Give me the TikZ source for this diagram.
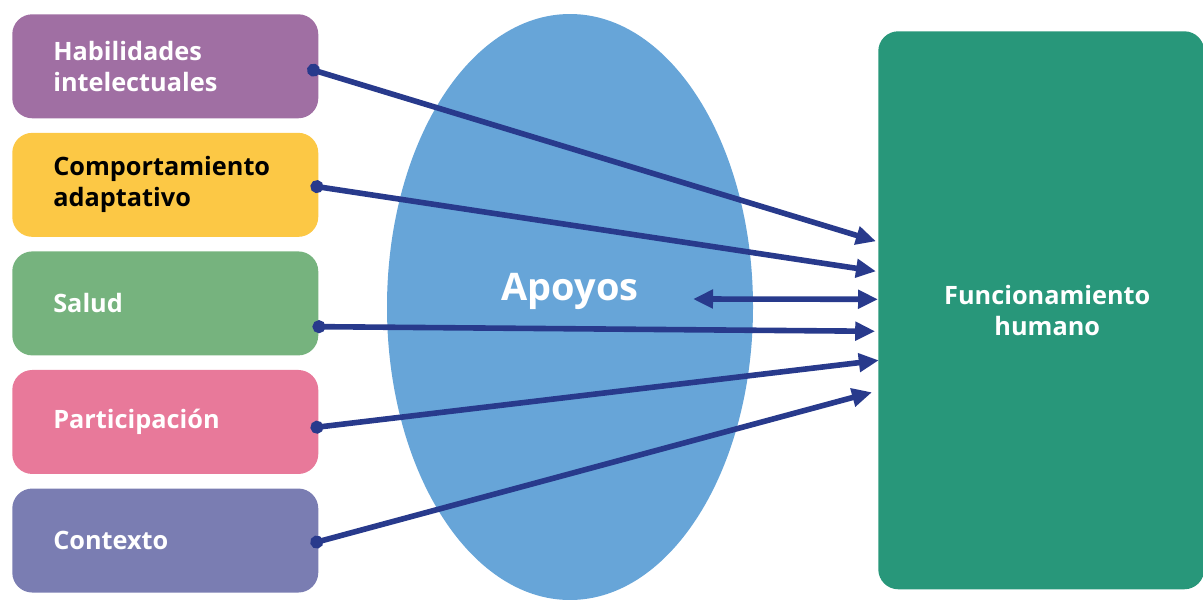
\documentclass[tikz,border=0pt]{standalone}
\usepackage{fontspec}
\setmainfont{Open Sans}
\usetikzlibrary{positioning}
\usetikzlibrary{arrows.meta}
\usetikzlibrary{shapes.geometric}
\definecolor{habcol}{HTML}{A06FA3}
\definecolor{compcol}{HTML}{FCC845}
\definecolor{saludcol}{HTML}{76B37E}
\definecolor{partcol}{HTML}{E8799A}
\definecolor{contcol}{HTML}{7A7DB2}
\definecolor{apocol}{HTML}{67A5D8}
\definecolor{funccol}{HTML}{28977A}
\definecolor{linkcol}{HTML}{283A8C}
\newcommand{\boxfont}{\fontsize{18}{22}\selectfont\bfseries}
\tikzstyle{area} = [rectangle, rounded corners=0.5cm, minimum width=7.65cm, minimum height=2.6cm, text width=5.6cm, inner xsep=1.025cm, align=left, text=white, font=\boxfont]
\tikzstyle{link} = [draw=linkcol, line width=0.14cm, {Circle[length=0.32cm]}-{Triangle[length=0.5cm,width=0.45cm]}]
\tikzstyle{twoway} = [draw=linkcol, line width=0.14cm, {Triangle[length=0.5cm,width=0.45cm]}-{Triangle[length=0.5cm,width=0.45cm]}]

\begin{document}
\begin{tikzpicture}[node distance=0.35cm]

		\useasboundingbox (0,0) rectangle (30.075,-14.975);

		\node (apoyos) [ellipse, fill=apocol, minimum width=9.15cm, minimum height=14.65cm] at (14.25,-7.675) {};
		\node (apoyos_txt) [text=white, font=\fontsize{27}{32}\selectfont\bfseries] at ([yshift=0.4cm]apoyos.center) {Apoyos};

		\node (hab) [area, fill=habcol, anchor=north west] at (0.3,-0.35) {Habilidades\\intelectuales};
		\node (comp) [area, fill=compcol, below=of hab, text=black] {Comportamiento\\adaptativo};
		\node (salud) [area, fill=saludcol, below=of comp] {Salud};
		\node (part) [area, fill=partcol, below=of salud] {Participación};
		\node (cont) [area, fill=contcol, below=of part] {Contexto};

		\begin{scope}
			\clip (0,0) rectangle (30.075,-14.975);
			\node (func) [rectangle, rounded corners=0.5cm, fill=funccol, anchor=north west, minimum width=8.15cm, minimum height=13.95cm] at (21.95,-0.775) {};
		\end{scope}
		\node (func_txt) [text=white, align=center, font=\fontsize{18}{22}\selectfont\bfseries] at ([xshift=0.15cm]func.center) {Funcionamiento\\humano};

		\coordinate (hab_out) at ([xshift=-0.28cm, yshift=-0.05cm]hab.east);
		\coordinate (comp_out) at ([xshift=-0.2cm, yshift=-0.02cm]comp.east);
		\coordinate (salud_out) at ([xshift=-0.15cm, yshift=-0.58cm]salud.east);
		\coordinate (part_out) at ([xshift=-0.2cm, yshift=-0.15cm]part.east);
		\coordinate (cont_out) at ([xshift=-0.2cm, yshift=-0.08cm]cont.east);
		\coordinate (apo_in) at (17.325,-7.475);

		\coordinate (func_a) at ([xshift=-0.05cm, yshift=1.725cm]func.west);
		\coordinate (func_b) at ([xshift=-0.05cm, yshift=0.975cm]func.west);
		\coordinate (func_c) at ([yshift=0.275cm]func.west);
		\coordinate (func_d) at ([xshift=-0.07cm, yshift=-0.525cm]func.west);
		\coordinate (func_e) at ([xshift=0.02cm, yshift=-1.25cm]func.west);
		\coordinate (func_f) at ([xshift=-0.15cm, yshift=-2.05cm]func.west);

		\draw [link] (hab_out) -- (func_a);
		\draw [link] (comp_out) -- (func_b);
		\draw [link] (salud_out) -- (func_d);
		\draw [link] (part_out) -- (func_e);
		\draw [link] (cont_out) -- (func_f);
		\draw [twoway] (apo_in) -- (func_c);

	\end{tikzpicture}
\end{document}
